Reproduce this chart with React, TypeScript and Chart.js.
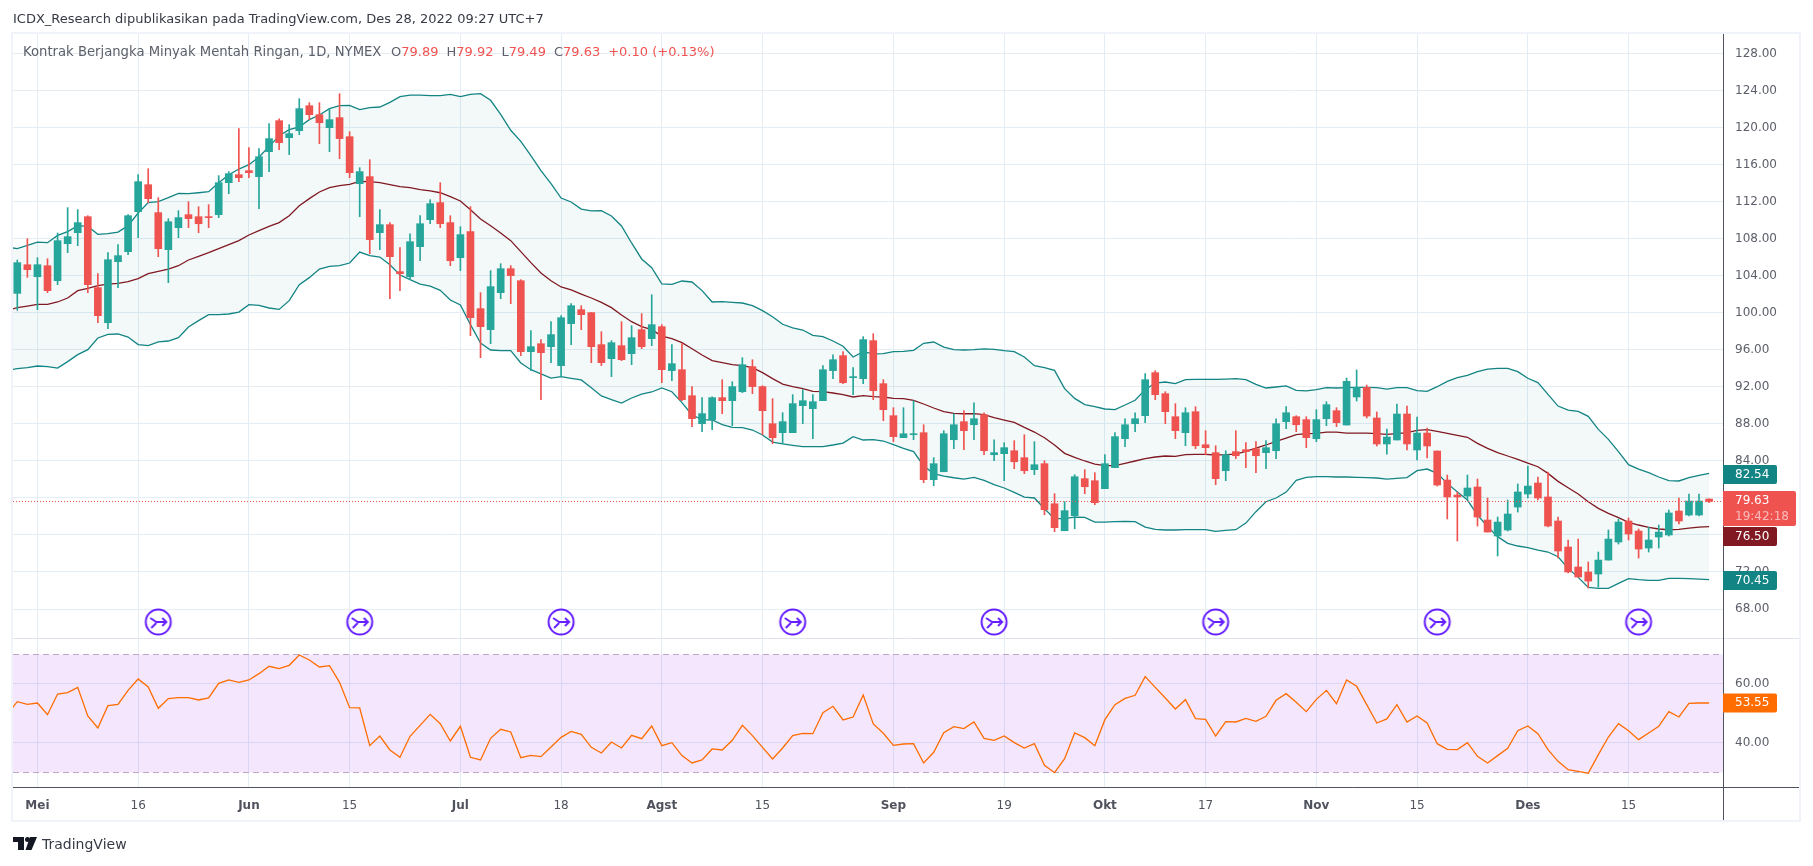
import Chart from "chart.js/auto";
import { useEffect, useRef } from "react";

const FONT = '"DejaVu Sans"';
const UP = "#26a69a";
const DOWN = "#ef5350";
const BAND = "#138484";
const BASIS = "#801922";
const GRID = "#e3edf3";
const AXIS = "#50535e";
const TEXT = "#5d606b";

const open = [
  102.12,105.22,103.92,105.11,103.49,107.49,108.68,110.41,102.74,98.95,
  105.55,106.63,110.95,113.87,110.85,106.85,109.22,110.63,110.41,110.41,
  110.63,114.09,114.95,115.39,114.74,117.44,120.79,118.95,119.71,122.41,
  121.44,120.03,121.12,119.06,113.98,114.74,108.68,109.55,104.47,103.92,
  107.17,110.09,111.93,109.77,105.98,108.79,100.47,98.20,102.20,104.79,
  103.49,95.82,96.68,96.36,94.31,98.85,100.36,100.04,96.58,95.06,
  96.47,95.60,98.20,97.23,98.52,93.77,93.87,91.06,88.03,88.47,
  90.85,90.52,91.49,94.20,92.04,88.03,87.06,87.06,89.98,89.66,
  90.52,93.77,95.39,93.01,92.90,97.01,92.36,88.90,86.52,86.84,
  87.06,81.98,82.84,86.30,88.25,87.92,89.01,84.68,84.79,85.11,
  84.36,83.06,83.71,79.38,76.46,78.09,82.09,81.87,81.01,83.28,
  86.41,88.03,88.90,93.55,91.28,88.79,87.06,89.33,85.76,84.90,
  82.95,85.01,85.22,85.33,84.90,85.11,88.25,88.79,88.47,86.41,
  88.57,89.44,87.89,90.92,91.96,88.65,85.84,86.27,89.08,85.19,
  87.02,85.08,81.94,80.32,80.21,81.19,77.62,75.89,76.54,79.02,
  80.43,81.62,80.11,77.51,74.70,72.54,72.00,71.78,73.29,75.24,
  77.51,76.43,74.59,75.78,76.00,78.59,78.16,78.16,79.89,
];

const close = [
  105.44,104.68,105.22,102.41,107.82,108.25,109.77,103.06,99.71,105.76,
  106.20,110.52,114.20,112.36,106.95,109.87,110.31,110.20,109.65,110.31,
  114.09,115.06,114.63,115.17,116.90,118.85,118.41,119.39,122.09,121.44,
  120.57,120.90,118.85,115.17,115.28,107.93,109.55,106.09,104.25,107.71,
  109.65,111.82,109.65,105.65,108.47,99.49,98.52,102.85,104.79,104.04,
  95.82,96.36,95.71,97.66,99.49,100.79,99.82,96.36,94.63,96.79,
  94.95,97.33,96.36,98.74,93.87,94.52,90.63,88.58,89.12,90.85,
  90.52,92.04,94.41,92.04,89.44,86.52,88.25,90.20,90.52,90.41,
  93.87,94.95,92.47,93.12,97.12,91.60,89.55,86.63,86.95,86.95,
  81.98,83.71,86.95,87.92,87.28,88.57,85.11,84.90,85.44,83.92,
  82.95,83.60,78.73,76.79,78.63,82.30,81.22,79.49,83.71,86.63,
  87.92,88.57,92.79,91.17,89.33,87.28,89.22,85.65,85.44,82.09,
  84.68,84.57,85.01,84.57,85.44,88.03,89.22,87.92,86.52,88.47,
  90.09,88.14,92.61,91.96,88.86,85.84,86.59,89.08,85.84,87.02,
  85.62,81.40,80.11,80.11,81.08,77.94,76.32,77.40,78.27,80.65,
  81.29,80.00,76.97,74.27,72.00,71.46,71.02,73.29,75.56,77.40,
  76.11,74.48,75.46,76.32,78.38,77.51,79.67,79.67,79.63,
];

const high = [
  105.73,108.03,105.98,105.87,108.65,111.39,111.17,110.52,104.25,106.52,
  107.39,110.63,114.95,115.60,112.47,110.20,111.06,112.03,111.49,111.71,
  114.85,115.28,119.93,117.87,117.77,120.47,121.00,120.36,123.17,122.74,
  122.74,122.09,123.71,119.60,115.71,116.57,111.17,109.77,107.06,108.57,
  110.52,112.25,114.09,110.52,109.33,111.50,102.20,104.58,105.33,105.12,
  103.60,98.09,97.12,99.06,99.71,101.01,100.79,100.04,97.98,97.01,
  99.06,98.63,99.93,101.98,98.74,96.58,96.68,92.04,90.85,90.95,
  92.79,92.58,95.17,94.95,92.14,90.74,89.22,91.17,91.71,91.17,
  94.31,95.49,95.82,94.09,97.44,97.77,92.79,89.76,89.76,90.52,
  87.92,84.36,87.28,89.11,89.44,90.30,89.22,86.30,85.98,86.20,
  86.84,86.09,84.03,80.47,79.60,82.52,83.06,82.74,84.68,87.06,
  88.57,89.22,93.44,93.76,91.49,90.20,89.76,89.87,87.28,85.65,
  85.11,87.28,85.98,86.09,86.20,88.57,89.87,88.90,88.79,89.55,
  90.41,89.76,92.97,93.84,92.21,89.30,87.46,90.16,89.94,88.75,
  87.57,85.08,82.48,80.65,82.48,82.05,80.00,77.94,79.78,81.51,
  83.46,82.27,82.81,77.94,75.46,75.56,73.08,74.16,76.54,77.73,
  77.84,76.65,76.86,77.08,78.70,80.00,80.43,80.43,79.92,
];

const low = [
  100.29,103.85,100.36,102.20,103.06,106.52,107.28,102.20,98.95,98.30,
  102.74,106.30,108.14,111.93,106.09,103.28,108.14,109.22,108.68,109.22,
  110.31,112.90,114.20,114.63,111.28,115.28,117.66,117.12,119.28,120.90,
  118.30,117.44,116.68,114.63,110.41,106.41,106.85,101.55,102.41,103.60,
  105.65,109.65,109.22,105.11,104.58,97.55,95.17,96.68,101.55,101.01,
  95.39,93.77,90.63,94.63,93.12,96.58,98.20,94.63,94.31,93.12,
  94.85,94.41,96.14,96.47,92.47,92.68,90.52,87.71,87.17,87.39,
  89.12,87.82,91.39,91.28,86.85,85.87,85.87,87.06,88.03,86.41,
  90.52,92.90,92.36,91.17,92.36,90.63,88.36,86.09,86.52,86.30,
  81.65,81.33,82.84,85.33,85.22,86.30,84.68,84.03,81.87,83.17,
  82.63,82.52,78.19,76.36,76.46,76.68,80.47,79.28,81.01,83.28,
  85.55,87.17,88.14,90.63,88.03,86.41,85.65,85.33,84.68,81.44,
  81.87,84.25,83.28,82.74,83.17,84.25,87.49,87.17,85.44,86.09,
  87.82,87.71,87.89,90.48,88.65,85.62,84.75,86.27,85.19,84.11,
  84.32,81.29,77.73,75.35,79.78,76.97,76.32,73.73,76.43,78.48,
  80.00,79.78,76.86,73.51,71.89,71.46,70.27,70.37,73.29,75.02,
  75.46,73.51,74.16,74.59,75.89,77.19,78.05,78.05,79.49,
];

// the indicator lines run in from one bar left of the first candle
const LEAD = -1;

const bbUpper = [
  107.13,
  106.95,107.31,107.67,107.60,108.39,108.79,109.44,109.37,108.50,108.57,
  108.75,109.44,110.81,111.93,112.03,112.47,112.94,112.90,113.00,113.12,
  114.09,114.95,115.56,116.03,116.86,117.98,119.17,119.82,120.11,120.90,
  121.40,122.09,122.41,122.45,121.98,122.20,122.27,122.77,123.39,123.56,
  123.56,123.50,123.50,123.64,123.39,123.64,123.71,122.99,121.48,119.75,
  118.56,117.01,115.40,113.98,112.43,112.00,111.24,111.03,111.06,110.49,
  109.41,107.57,105.84,104.90,103.14,103.10,103.46,103.35,102.42,101.19,
  101.23,101.15,101.08,100.79,100.25,99.60,98.78,98.38,98.16,97.59,
  97.44,96.97,96.40,95.24,95.82,95.57,95.60,95.82,95.85,95.96,
  96.72,96.86,96.32,96.03,96.00,96.03,96.11,96.07,95.93,95.82,
  95.24,94.30,94.09,93.80,91.82,90.77,90.09,89.87,89.62,89.55,
  90.05,90.56,91.71,92.43,92.54,92.36,92.79,92.83,92.83,92.83,
  92.86,92.90,92.79,92.29,91.89,92.00,92.11,91.64,91.57,91.71,
  91.93,91.89,91.93,91.96,91.96,91.93,91.78,91.93,91.93,91.60,
  91.53,92.03,92.61,93.01,93.26,93.66,93.94,94.02,94.02,93.66,
  92.94,92.47,91.21,89.94,89.51,89.37,88.83,87.42,86.34,85.01,
  83.60,83.13,82.74,82.27,81.87,81.84,82.20,82.45,82.66,
];

const bbBasis = [
  100.29,
  100.57,100.75,100.93,100.93,101.19,101.62,102.41,102.66,102.95,103.13,
  103.20,103.38,103.71,104.25,104.50,104.75,105.11,105.73,106.12,106.52,
  106.95,107.39,107.82,108.43,108.90,109.37,109.77,110.52,111.60,112.36,
  113.08,113.55,113.76,113.91,114.23,114.20,114.09,113.87,113.66,113.55,
  113.33,113.19,113.00,112.58,112.11,111.17,110.16,109.44,108.65,107.82,
  106.63,105.44,104.33,103.49,102.81,102.49,102.05,101.62,101.15,100.58,
  99.78,99.06,98.52,98.20,97.51,97.23,96.79,96.14,95.46,94.85,
  94.63,94.41,94.31,94.09,93.55,92.90,92.32,92.04,91.82,91.53,
  91.49,91.35,91.17,90.92,91.06,90.95,90.92,90.77,90.74,90.56,
  90.16,89.73,89.33,89.15,89.11,89.11,89.01,88.68,88.43,88.18,
  87.64,87.13,86.52,85.73,84.83,84.39,84.00,83.67,83.49,83.49,
  83.74,84.00,84.25,84.43,84.54,84.50,84.68,84.72,84.72,84.65,
  84.68,84.75,85.04,85.40,85.73,86.12,86.48,86.84,86.95,86.99,
  87.13,87.13,87.02,87.02,87.02,86.95,86.88,86.95,87.06,87.31,
  87.39,87.21,86.99,86.77,86.56,85.91,85.37,84.90,84.54,84.18,
  83.78,83.38,82.66,81.80,81.11,80.43,79.60,78.88,78.34,77.87,
  77.37,77.08,76.83,76.65,76.57,76.61,76.75,76.86,76.90,
];

const bbLower = [
  93.80,
  93.98,94.09,94.27,94.20,94.05,94.74,95.50,96.04,97.30,97.69,
  97.73,97.40,96.58,96.47,96.87,96.97,97.33,98.49,99.17,99.82,
  99.82,99.89,100.10,100.90,100.83,100.54,100.39,101.33,103.06,103.82,
  104.75,105.04,105.11,105.40,106.59,106.20,106.05,105.22,104.10,103.60,
  103.13,102.91,102.45,101.40,100.86,98.74,96.76,96.00,95.93,95.93,
  94.59,93.87,93.41,92.97,93.12,92.94,92.76,91.93,91.03,90.63,
  90.27,90.81,91.24,91.46,91.89,91.49,90.31,88.97,88.47,88.43,
  87.93,87.64,87.60,87.35,86.81,86.05,85.84,85.69,85.55,85.55,
  85.55,85.73,85.94,86.63,86.27,86.31,86.16,85.76,85.37,85.01,
  83.49,82.63,82.37,82.19,82.05,82.23,81.91,81.44,81.08,80.61,
  80.10,80.00,78.84,77.76,77.76,77.94,77.91,77.40,77.40,77.44,
  77.47,77.44,76.86,76.61,76.54,76.54,76.57,76.57,76.57,76.39,
  76.50,76.57,77.29,78.52,79.60,80.00,80.64,81.91,82.23,82.30,
  82.30,82.27,82.27,82.23,82.20,82.16,82.05,82.12,82.20,82.95,
  83.13,82.66,81.58,80.65,79.78,78.16,76.90,75.82,75.10,74.81,
  74.63,74.37,74.16,73.65,72.39,71.42,70.34,70.23,70.23,70.77,
  71.28,71.17,71.10,71.10,71.31,71.31,71.28,71.24,71.17,
];

const rsi = [
  49.83,
  54.01,53.11,53.56,49.60,56.61,57.06,58.87,49.15,45.09,52.66,
  53.11,57.85,61.70,58.98,51.75,55.03,55.37,55.37,54.58,55.26,
  60.23,61.36,60.57,61.36,63.50,66.00,65.20,66.33,69.83,68.14,
  65.76,66.20,60.57,51.98,51.87,39.10,42.37,37.63,35.14,42.26,
  45.99,49.72,46.55,40.68,45.65,35.14,34.24,41.58,44.63,43.73,
  35.03,35.82,35.37,38.64,41.92,43.95,42.94,38.53,36.61,40.34,
  38.31,42.60,41.47,45.76,39.10,40.11,35.71,33.22,34.24,37.97,
  37.63,40.90,45.99,42.49,38.53,34.58,38.31,42.49,43.28,43.16,
  50.28,52.43,47.80,48.81,56.27,46.44,43.28,39.21,39.66,39.77,
  33.22,36.84,43.50,45.54,44.86,47.12,41.58,40.90,42.37,40.11,
  38.31,39.77,32.43,29.94,34.69,43.39,41.81,39.10,47.91,53.00,
  55.14,56.16,62.49,58.87,55.26,51.53,54.69,48.25,48.02,42.37,
  47.23,47.12,48.36,47.35,49.04,54.46,56.72,53.78,50.62,54.80,
  57.85,53.33,61.36,59.21,53.00,46.78,48.14,53.00,47.12,49.15,
  46.78,39.77,37.85,37.74,40.11,35.48,33.22,35.71,38.19,44.18,
  45.76,43.16,37.74,33.79,30.96,30.40,29.72,36.04,42.03,46.55,
  44.18,41.13,43.39,45.65,50.62,48.81,53.40,53.56,53.55,
];

const priceTicks = [68,72,76,80,84,88,92,96,100,104,108,112,116,120,124,128];
const rsiTicks = [40, 60];
const rsiBandTop = 70;
const rsiBandBottom = 30;

const timeTickBars = [2,12,23,33,44,54,64,74,87,98,108,118,129,139,150,160];
const timeTickLabels = ["Mei","16","Jun","15","Jul","18","Agst","15","Sep","19","Okt","17","Nov","15","Des","15"];

const splitBars = [14,34,54,77,97,119,141,161];
const splitLevel = [66.6,66.6,66.6,66.6,66.6,66.6,66.6,66.6];

const lastPrice = 79.63;

function makeSplitIcon() {
  const c = document.createElement("canvas");
  c.width = 30;
  c.height = 30;
  const ctx = c.getContext("2d")!;
  ctx.strokeStyle = "#651fff";
  ctx.lineWidth = 2;
  ctx.beginPath();
  ctx.arc(15, 15, 12.5, 0, Math.PI * 2);
  ctx.stroke();
  ctx.beginPath();
  ctx.moveTo(7, 11);
  ctx.lineTo(13, 15);
  ctx.lineTo(23, 15);
  ctx.moveTo(19, 11);
  ctx.lineTo(23, 15);
  ctx.lineTo(19, 19);
  ctx.moveTo(8, 21);
  ctx.lineTo(13, 16);
  ctx.stroke();
  return c;
}

function tag(ctx: CanvasRenderingContext2D, x: number, top: number, w: number, h: number, color: string) {
  ctx.fillStyle = color;
  ctx.beginPath();
  ctx.roundRect(x, top, w, h, [0, 2, 2, 0]);
  ctx.fill();
}

const paneDecor = {
  id: "paneDecor",
  beforeDatasetsDraw(chart: any) {
    const { ctx, chartArea, scales } = chart;
    const y70 = scales.rsi.getPixelForValue(rsiBandTop);
    const y30 = scales.rsi.getPixelForValue(rsiBandBottom);
    ctx.save();
    ctx.fillStyle = "rgba(145,5,235,0.1)";
    ctx.fillRect(chartArea.left, y70, chartArea.width, y30 - y70);
    ctx.strokeStyle = "#b9a9c4";
    ctx.lineWidth = 1;
    ctx.setLineDash([6, 4]);
    [y70, y30].forEach((y: number) => {
      ctx.beginPath();
      ctx.moveTo(chartArea.left, Math.round(y) + 0.5);
      ctx.lineTo(chartArea.right, Math.round(y) + 0.5);
      ctx.stroke();
    });
    ctx.restore();
  },
  afterDraw(chart: any) {
    const { ctx, chartArea, scales } = chart;
    const right = chartArea.right;
    const paneY = scales.y.bottom;
    const fullRight = 1800;
    const fullBottom = 821;
    ctx.save();

    // last price line
    const lastY = Math.round(scales.y.getPixelForValue(lastPrice)) + 0.5;
    ctx.strokeStyle = DOWN;
    ctx.lineWidth = 1;
    ctx.setLineDash([1, 2]);
    ctx.beginPath();
    ctx.moveTo(chartArea.left, lastY);
    ctx.lineTo(right, lastY);
    ctx.stroke();
    ctx.setLineDash([]);

    // pane separator, axis lines, outer frame
    ctx.strokeStyle = "#e0e3eb";
    ctx.beginPath();
    ctx.moveTo(chartArea.left, paneY + 0.5);
    ctx.lineTo(fullRight, paneY + 0.5);
    ctx.stroke();
    ctx.strokeStyle = AXIS;
    ctx.beginPath();
    ctx.moveTo(right + 0.5, chartArea.top);
    ctx.lineTo(right + 0.5, fullBottom);
    ctx.moveTo(chartArea.left, chartArea.bottom + 0.5);
    ctx.lineTo(fullRight, chartArea.bottom + 0.5);
    ctx.stroke();
    ctx.strokeStyle = "#f0f3fa";
    ctx.lineWidth = 2;
    ctx.strokeRect(12, 33, fullRight - 12, fullBottom - 33);

    // header and legend
    ctx.textBaseline = "middle";
    ctx.textAlign = "left";
    ctx.font = `13px ${FONT}`;
    ctx.fillStyle = "#363a45";
    ctx.fillText("ICDX_Research dipublikasikan pada TradingView.com, Des 28, 2022 09:27 UTC+7", 13, 20);
    ctx.font = `13.2px ${FONT}`;
    ctx.fillStyle = TEXT;
    ctx.fillText("Kontrak Berjangka Minyak Mentah Ringan, 1D, NYMEX", 23, 53);
    ctx.font = `13px ${FONT}`;
    let lx = 391;
    const parts = [["O", "79.89"], ["H", "79.92"], ["L", "79.49"], ["C", "79.63"], ["", "+0.10 (+0.13%)"]];
    parts.forEach(([k, v]) => {
      ctx.fillStyle = TEXT;
      ctx.fillText(k, lx, 53);
      lx += ctx.measureText(k).width;
      ctx.fillStyle = DOWN;
      ctx.fillText(v, lx, 53);
      lx += ctx.measureText(v).width + 8;
    });

    // value tags on the axis
    ctx.font = `12px ${FONT}`;
    const tagLeft = right;
    const textX = right + 12;
    const small = [
      { label: "82.54", color: BAND, top: 465 },
      { label: "76.50", color: BASIS, top: 527 },
      { label: "70.45", color: BAND, top: 571 },
    ];
    tag(ctx, tagLeft, 491, 73, 35, DOWN);
    ctx.fillStyle = "#ffffff";
    ctx.fillText("79.63", textX, 501);
    ctx.fillStyle = "rgba(255,255,255,0.6)";
    ctx.fillText("19:42:18", textX, 517);
    small.forEach((t) => {
      tag(ctx, tagLeft, t.top, 54, 19, t.color);
      ctx.fillStyle = "#ffffff";
      ctx.fillText(t.label, textX, t.top + 9.5);
    });
    const rsiY = scales.rsi.getPixelForValue(rsi[rsi.length - 1]);
    tag(ctx, tagLeft, rsiY - 9.5, 54, 19, "#ff6d00");
    ctx.fillStyle = "#ffffff";
    ctx.fillText("53.55", textX, rsiY);

    // footer mark
    ctx.fillStyle = "#131722";
    ctx.fillRect(13, 837, 11, 5);
    ctx.fillRect(18, 837, 6, 13);
    ctx.beginPath();
    ctx.arc(27.5, 839.5, 2.5, 0, Math.PI * 2);
    ctx.fill();
    ctx.beginPath();
    ctx.moveTo(30, 837);
    ctx.lineTo(37, 837);
    ctx.lineTo(31.5, 850);
    ctx.lineTo(25.5, 850);
    ctx.closePath();
    ctx.fill();
    ctx.font = `14px ${FONT}`;
    ctx.fillStyle = "#363a45";
    ctx.fillText("TradingView", 42, 845);
    ctx.restore();
  },
};

// chart.js reserves room for labels near the ends of an axis; the panes here need none
function dropPadding(scale: any) {
  scale.paddingLeft = 0;
  scale.paddingRight = 0;
  scale.paddingTop = 0;
  scale.paddingBottom = 0;
}

export default function App() {
  const canvasRef = useRef<HTMLCanvasElement | null>(null);

  useEffect(() => {
    document.body.style.margin = "0";
    document.body.style.background = "#ffffff";
    if (!canvasRef.current) {
      return;
    }

    const bars = open.map((_, i) => i);
    const lineData = (values: number[]) => values.map((y, i) => ({ x: i + LEAD, y }));
    const colors = open.map((o, i) => (close[i] >= o ? UP : DOWN));

    const chart = new Chart(canvasRef.current, {
      type: "bar",
      data: {
        datasets: [
          {
            type: "line",
            data: lineData(bbUpper),
            borderColor: BAND,
            borderWidth: 1.3,
            pointRadius: 0,
            fill: "+2",
            backgroundColor: "rgba(19,132,132,0.05)",
            yAxisID: "y",
            order: 5,
          },
          {
            type: "line",
            data: lineData(bbBasis),
            borderColor: BASIS,
            borderWidth: 1.3,
            pointRadius: 0,
            yAxisID: "y",
            order: 4,
          },
          {
            type: "line",
            data: lineData(bbLower),
            borderColor: BAND,
            borderWidth: 1.3,
            pointRadius: 0,
            yAxisID: "y",
            order: 3,
          },
          {
            type: "bar",
            data: bars.map((i) => ({ x: i, y: [low[i], high[i]] })),
            backgroundColor: colors,
            barThickness: 1,
            grouped: false,
            yAxisID: "y",
            order: 2,
          },
          {
            type: "bar",
            data: bars.map((i) => ({ x: i, y: [open[i], close[i]] })),
            backgroundColor: colors,
            barThickness: 7,
            minBarLength: 1,
            grouped: false,
            yAxisID: "y",
            order: 1,
          },
          {
            type: "line",
            data: splitBars.map((x, i) => ({ x, y: splitLevel[i] })),
            showLine: false,
            pointStyle: makeSplitIcon(),
            pointRadius: 15,
            yAxisID: "y",
            order: 0,
          },
          {
            type: "line",
            data: lineData(rsi),
            borderColor: "#ff6d00",
            borderWidth: 1.3,
            pointRadius: 0,
            yAxisID: "rsi",
            order: 6,
          },
        ],
      },
      plugins: [paneDecor],
      options: {
        responsive: false,
        animation: false,
        events: [],
        layout: { autoPadding: false, padding: { left: 13, right: 13, top: 34, bottom: 45 } },
        plugins: {
          legend: { display: false },
          tooltip: { enabled: false },
        },
        scales: {
          x: {
            type: "linear",
            offset: false,
            min: -0.427,
            max: 169.38,
            grid: { color: GRID, offset: false, drawTicks: false },
            border: { display: false },
            afterBuildTicks: (scale: any) => {
              scale.ticks = timeTickBars.map((value) => ({ value }));
            },
            afterFit: (scale: any) => {
              scale.height = 34;
              dropPadding(scale);
            },
            ticks: {
              autoSkip: false,
              maxRotation: 0,
              padding: 12,
              color: AXIS,
              font: (ctx: any) => ({
                family: FONT,
                size: 12,
                weight: isNaN(Number(ctx.tick?.label)) ? "bold" : "normal",
              }),
              callback: (value: any) => timeTickLabels[timeTickBars.indexOf(value)] ?? "",
            },
          },
          y: {
            type: "linear",
            position: "right",
            stack: "panes",
            stackWeight: 604,
            min: 64.865,
            max: 130.16,
            grid: { color: GRID, drawTicks: false },
            border: { display: false },
            afterBuildTicks: (scale: any) => {
              scale.ticks = priceTicks.map((value) => ({ value }));
            },
            afterFit: (scale: any) => {
              scale.width = 77;
              dropPadding(scale);
            },
            ticks: {
              padding: 12,
              color: TEXT,
              font: { family: FONT, size: 12 },
              callback: (value: any) => Number(value).toFixed(2),
            },
          },
          rsi: {
            type: "linear",
            position: "right",
            stack: "panes",
            stackWeight: 149,
            min: 25.08,
            max: 75.59,
            grid: { color: GRID, drawTicks: false },
            border: { display: false },
            afterBuildTicks: (scale: any) => {
              scale.ticks = rsiTicks.map((value) => ({ value }));
            },
            afterFit: (scale: any) => {
              scale.width = 77;
              dropPadding(scale);
            },
            ticks: {
              padding: 12,
              color: TEXT,
              font: { family: FONT, size: 12 },
              callback: (value: any) => Number(value).toFixed(2),
            },
          },
        },
      } as any,
    } as any);

    return () => {
      chart.destroy();
    };
  }, []);

  return <canvas ref={canvasRef} width={1813} height={866} style={{ display: "block" }} />;
}
